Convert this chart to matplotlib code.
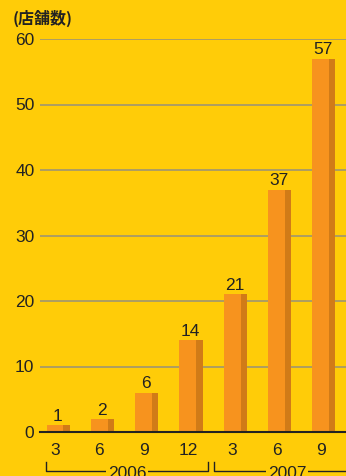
import numpy as np
import matplotlib.pyplot as plt
from matplotlib.lines import Line2D

# data
months = ['3', '6', '9', '12', '3', '6', '9']
stores = [1, 2, 6, 14, 21, 37, 57]
years = ['2006', '2007']

bg = '#FFCC08'
front = '#F7931E'
side = '#D17B17'

plt.rcParams['font.family'] = ['Liberation Sans', 'Noto Sans CJK JP', 'DejaVu Sans']

fig = plt.figure(figsize=(3.46, 4.76), dpi=100, facecolor=bg)
ax = fig.add_axes([40/346, 1 - 432/476, 306/346, 393/476], facecolor=bg)

x = np.arange(len(stores))
ax.bar(x, stores, width=0.38, color=front, zorder=3)
ax.bar(x + 0.19 + 0.07, stores, width=0.14, color=side, zorder=3)

for xi, v in zip(x, stores):
    ax.annotate(str(v), (xi + 0.05, v), xytext=(0, 1), textcoords='offset points',
                ha='center', va='bottom', fontsize=12.5, color='#222222')

ax.set_xlim(-0.339, 6.57)
ax.set_ylim(0, 60)
ax.set_yticks([0, 10, 20, 30, 40, 50, 60])
ax.yaxis.grid(True, color='#A69A6A', linewidth=1.3, zorder=1)
ax.set_xticks(x)
ax.set_xticklabels(months)
ax.tick_params(length=0, labelsize=12.5, colors='#222222', pad=4)
ax.tick_params(axis='x', pad=8)
for s in ['top', 'right', 'left']:
    ax.spines[s].set_visible(False)
ax.spines['bottom'].set_color('#222222')
ax.spines['bottom'].set_linewidth(1.5)
ax.spines['bottom'].set_zorder(4)

fig.text(13/346, 1 - 18/476, '(店舗数)', fontsize=11.5, fontweight='bold',
         family=['Noto Sans CJK JP', 'DejaVu Sans'], color='#222222', va='center')

# year brackets
W, H = 346, 476
def bracket(x0, x1, label, close_right=True):
    ytop, ybot = 1 - 462/H, 1 - 471/H
    xs = [x0/W, x0/W, x1/W]
    ys = [ytop, ybot, ybot]
    if close_right:
        xs.append(x1/W)
        ys.append(ytop)
    fig.add_artist(Line2D(xs, ys, color='#222222', linewidth=1.0))
    fig.text((x0 + x1) / 2 / W, 1 - 474/H, label, ha='center', va='center', fontsize=12.5,
             color='#222222', bbox=dict(facecolor=bg, edgecolor='none', pad=1))

bracket(46, 208, years[0])
bracket(214, 360, years[1], close_right=False)

fig.savefig('out.png', dpi=100, facecolor=bg)
